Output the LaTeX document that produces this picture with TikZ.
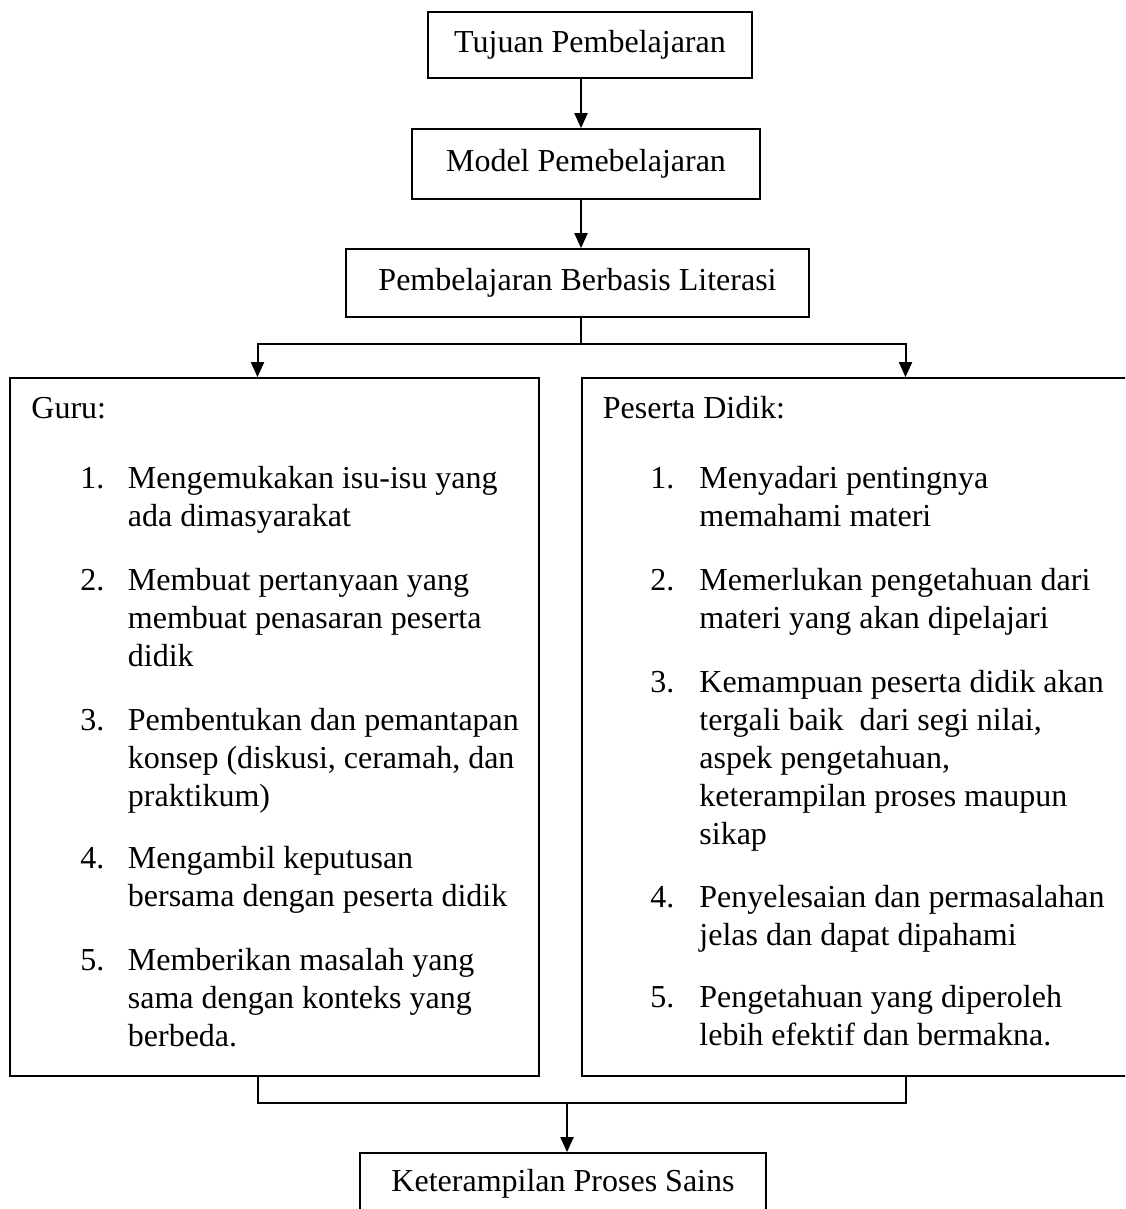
\documentclass[tikz,border=0pt]{standalone}
\usepackage{fontspec}
\setmainfont{Liberation Serif}
\usetikzlibrary{arrows.meta}
\newcommand\mylines[1]{\vtop{\baselineskip=19pt #1}}
\begin{document}
\begin{tikzpicture}[x=0.5pt,y=-0.5pt,
  every node/.style={font=\fontsize{16}{19}\selectfont},
  box/.style={draw,line width=0.85pt,inner sep=0pt,align=center},
  arr/.style={line width=1pt,-{Triangle[length=7.5pt,width=6.5pt]}},
  conn/.style={line width=1pt},
  txt/.style={anchor=base west,inner sep=0pt}]
\useasboundingbox (0,0) rectangle (1125,1209);
\clip (0,0) rectangle (1125,1209);

% main boxes
\node[box,minimum width=162pt,minimum height=33pt] (tujuan) at (590,45) {Tujuan Pembelajaran};
\node[box,minimum width=174pt,minimum height=35pt] (model) at (586,164) {Model Pemebelajaran};
\node[box,minimum width=231.5pt,minimum height=34pt] (berbasis) at (577.5,283) {Pembelajaran Berbasis Literasi};
\node[box,minimum width=264.5pt,minimum height=349pt] (guru) at (274.5,727) {};
\node[box,minimum width=279pt,minimum height=349pt] (peserta) at (861,727) {};
\node[box,minimum width=203pt,minimum height=31pt] (kps) at (563,1184) {Keterampilan Proses Sains};

% helper coordinates
\coordinate (ax) at (581,0);
\coordinate (split) at (581,344);
\coordinate (lx) at (257.5,0);
\coordinate (rx) at (905.5,0);
\coordinate (join) at (567,1103);

% connectors
\draw[arr] (tujuan.south -| ax) -- (model.north -| ax);
\draw[arr] (model.south -| ax) -- (berbasis.north -| ax);
\draw[conn] (berbasis.south -| split) -- (split);
\draw[arr] (split) -| (guru.north -| lx);
\draw[arr] (split) -| (peserta.north -| rx);
\draw[conn] (guru.south -| lx) |- (join);
\draw[conn] (peserta.south -| rx) |- (join);
\draw[arr] (join) -- (kps.north -| join);

% Guru text
\node[txt] (g0) at (31,418) {Guru:};
\node[txt] (g1n) at (80,488) {1.};
\node[txt] (g1) at (127.5,488) {\mylines{\hbox{Mengemukakan isu-isu yang}\hbox{ada dimasyarakat}}};
\node[txt] (g2n) at (80,590) {2.};
\node[txt] (g2) at (127.5,590) {\mylines{\hbox{Membuat pertanyaan yang}\hbox{membuat penasaran peserta}\hbox{didik}}};
\node[txt] (g3n) at (80,730) {3.};
\node[txt] (g3) at (127.5,730) {\mylines{\hbox{Pembentukan dan pemantapan}\hbox{konsep (diskusi, ceramah, dan}\hbox{praktikum)}}};
\node[txt] (g4n) at (80,868) {4.};
\node[txt] (g4) at (127.5,868) {\mylines{\hbox{Mengambil keputusan}\hbox{bersama dengan peserta didik}}};
\node[txt] (g5n) at (80,970) {5.};
\node[txt] (g5) at (127.5,970) {\mylines{\hbox{Memberikan masalah yang}\hbox{sama dengan konteks yang}\hbox{berbeda.}}};

% Peserta text
\node[txt] (p0) at (602.5,418) {Peserta Didik:};
\node[txt] (p1n) at (650,488) {1.};
\node[txt] (p1) at (699,488) {\mylines{\hbox{Menyadari pentingnya}\hbox{memahami materi}}};
\node[txt] (p2n) at (650,590) {2.};
\node[txt] (p2) at (699,590) {\mylines{\hbox{Memerlukan pengetahuan dari}\hbox{materi yang akan dipelajari}}};
\node[txt] (p3n) at (650,692) {3.};
\node[txt] (p3) at (699,692) {\mylines{\hbox{Kemampuan peserta didik akan}\hbox{tergali baik \ dari segi nilai,}\hbox{aspek pengetahuan,}\hbox{keterampilan proses maupun}\hbox{sikap}}};
\node[txt] (p4n) at (650,907) {4.};
\node[txt] (p4) at (699,907) {\mylines{\hbox{Penyelesaian dan permasalahan}\hbox{jelas dan dapat dipahami}}};
\node[txt] (p5n) at (650,1007) {5.};
\node[txt] (p5) at (699,1007) {\mylines{\hbox{Pengetahuan yang diperoleh}\hbox{lebih efektif dan bermakna.}}};
\end{tikzpicture}
\end{document}
